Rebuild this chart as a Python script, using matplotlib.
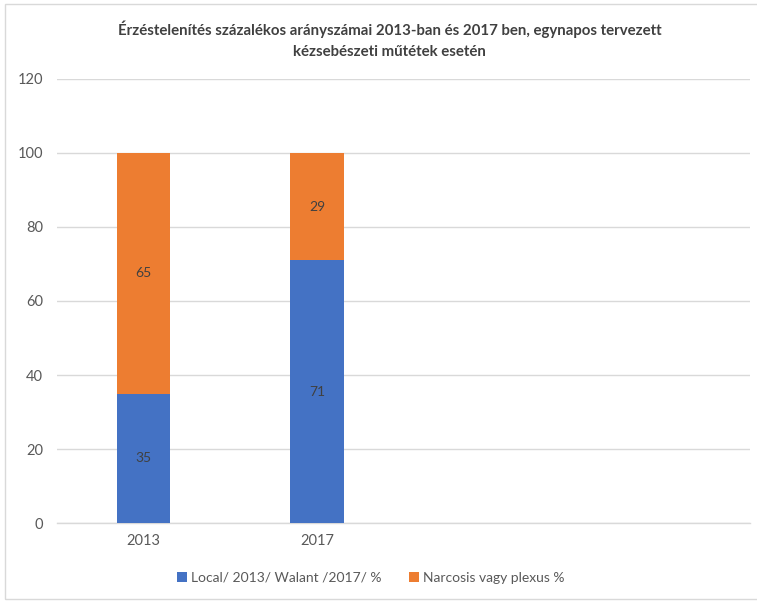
import matplotlib
matplotlib.use('Agg')
from matplotlib import pyplot as plt
from matplotlib.patches import Rectangle

plt.rcParams['font.family'] = ['Lato', 'DejaVu Sans']

years = ['2013', '2017', '', '']
local = [35, 71]
narcosis = [65, 29]
labels = ['Local/ 2013/ Walant /2017/ %', 'Narcosis vagy plexus %']
yticks = [0, 20, 40, 60, 80, 100, 120]

blue = '#4472C4'
orange = '#ED7D31'
grey_txt = '#595959'

fig = plt.figure(figsize=(7.57, 6.02), dpi=100)
ax = fig.add_axes([0.0753, 0.1312, 0.9155, 0.7376])

x = list(range(len(local)))
w = 0.31
b1 = ax.bar(x, local, w, color=blue, label=labels[0], zorder=3)
b2 = ax.bar(x, narcosis, w, bottom=local, color=orange, label=labels[1], zorder=3)

# value labels in the middle of each segment
for i in x:
    ax.text(i, local[i] / 2, str(local[i]), ha='center', va='center',
            fontsize=10, color='#404040', zorder=4)
    ax.text(i, local[i] + narcosis[i] / 2, str(narcosis[i]), ha='center',
            va='center', fontsize=10, color='#404040', zorder=4)

ax.set_xlim(-0.5, len(years) - 0.5)
ax.set_ylim(0, 120)
ax.set_yticks(yticks)
ax.set_xticks(range(len(years)))
ax.set_xticklabels(years)
ax.yaxis.grid(True, color='#D9D9D9', linewidth=1, zorder=0)
ax.tick_params(axis='both', length=0, labelsize=10.5, colors=grey_txt, pad=8)
ax.tick_params(axis='y', pad=10)
for s in ['top', 'right', 'left']:
    ax.spines[s].set_visible(False)
ax.spines['bottom'].set_color('#D9D9D9')
ax.spines['bottom'].set_linewidth(1)

fig.text(0.515, 0.934, 'Érzéstelenítés százalékos arányszámai 2013-ban és 2017 ben, egynapos tervezett\nkézsebészeti műtétek esetén',
         ha='center', va='center', fontsize=10.8, fontweight='bold', color='#404040',
         linespacing=1.55)

fig.legend(handles=[b1, b2], labels=labels, loc='center', bbox_to_anchor=(0.49, 0.04),
           ncol=2, frameon=False, fontsize=10, handlelength=0.7, handleheight=0.7,
           handletextpad=0.3, columnspacing=2.0, labelcolor=grey_txt)

# thin frame around the chart area
fig.patches.append(Rectangle((0.007, 0.005), 1.2, 0.988, transform=fig.transFigure,
                             fill=False, edgecolor='#D9D9D9', linewidth=1))

fig.savefig('out.png', dpi=100)
